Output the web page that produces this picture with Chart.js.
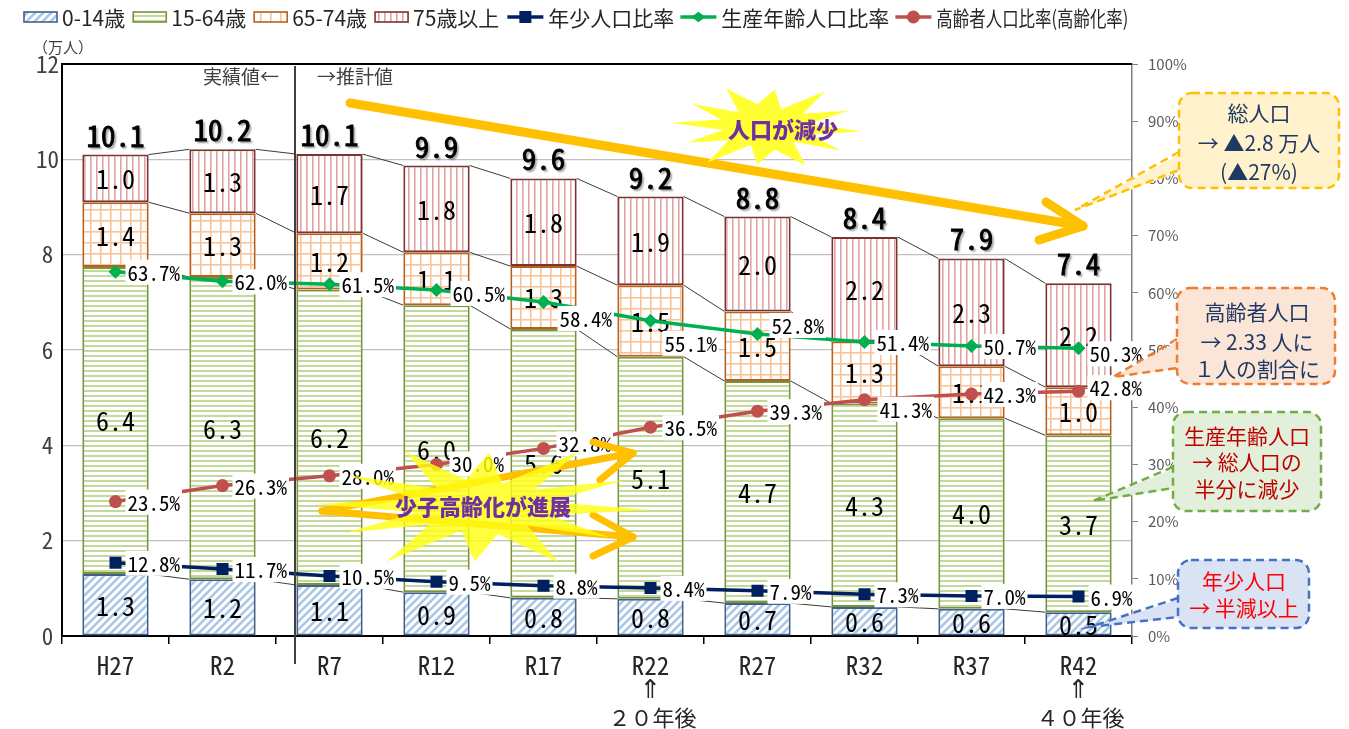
<!DOCTYPE html>
<html><head><meta charset="utf-8">
<script src="https://cdn.jsdelivr.net/npm/chart.js@4.4.1/dist/chart.umd.min.js"></script>
<style>html,body{margin:0;padding:0;background:#fff}#wrap{width:1349px;height:729px;position:relative}</style>
</head><body><div id="wrap"><canvas id="c"></canvas></div>
<script>
// ---- data ----
const categories = ['H27','R2','R7','R12','R17','R22','R27','R32','R37','R42'];
const age0_14   = [1.30,1.19,1.07,0.92,0.80,0.78,0.69,0.61,0.57,0.50];
const age15_64  = [6.44,6.34,6.20,6.02,5.64,5.08,4.66,4.27,4.00,3.71];
const age65_74  = [1.36,1.34,1.18,1.11,1.32,1.50,1.46,1.30,1.09,1.01];
const age75plus = [1.00,1.34,1.66,1.82,1.84,1.86,1.99,2.19,2.26,2.18];
const totals    = [10.1,10.2,10.1,9.9,9.6,9.2,8.8,8.4,7.9,7.4];
const youthRatio   = [12.8,11.7,10.5,9.5,8.8,8.4,7.9,7.3,7.0,6.9];
const workingRatio = [63.7,62.0,61.5,60.5,58.4,55.1,52.8,51.4,50.7,50.3];
const elderlyRatio = [23.5,26.3,28.0,30.0,32.8,36.5,39.3,41.3,42.3,42.8];
const seriesNames = ['0-14歳','15-64歳','65-74歳','75歳以上','年少人口比率','生産年齢人口比率','高齢者人口比率(高齢化率)'];

const MONO = "'Noto Sans Mono CJK JP','Liberation Mono',monospace";
const JP = "'Noto Sans CJK JP','Noto Sans',sans-serif";

// ---- patterns ----
function makePattern(w,h,draw){
  const c=document.createElement('canvas');c.width=w;c.height=h;
  const g=c.getContext('2d');g.fillStyle='#fff';g.fillRect(0,0,w,h);draw(g);
  return g.createPattern(c,'repeat');
}
const pDiag = makePattern(8,8,g=>{g.strokeStyle='#A9C6E6';g.lineWidth=2.6;g.beginPath();
  g.moveTo(-2,10);g.lineTo(10,-2);g.moveTo(-2,2);g.lineTo(2,-2);g.moveTo(6,10);g.lineTo(10,6);g.stroke();});
const pHor = makePattern(4,5,g=>{g.fillStyle='#C4D89E';g.fillRect(0,0,4,2);});
const pGrid = makePattern(10,11,g=>{g.fillStyle='#F9C598';g.fillRect(0,0,1.6,11);g.fillRect(0,0,10,1.6);});
const pVert = makePattern(6,4,g=>{g.fillStyle='#E2A4A3';g.fillRect(0,0,1.6,4);});

const barStyles = [
  {fill:pDiag, border:'#41608A'},
  {fill:pHor,  border:'#77933C'},
  {fill:pGrid, border:'#B8601E'},
  {fill:pVert, border:'#7A3333'}
];
const lineStyles = [
  {color:'#002060', style:'rect', r:8.5},
  {color:'#00B050', style:'rectRot', r:7},
  {color:'#C0504D', style:'circle', r:6.5}
];
// label offsets (dx,dy) for ratio labels
const labelShift = {
  1:{3:[16,3],4:[16,16],5:[14,22],6:[14,-9],9:[11,5]},
  2:{3:[15,-1],4:[15,-5],5:[14,0],7:[15,9],9:[11,-4]}
};

function barDS(i,data){
  return {type:'bar',label:seriesNames[i],data:data,yAxisID:'y',backgroundColor:barStyles[i].fill,
    borderColor:barStyles[i].border,borderWidth:2,borderSkipped:false,order:1,
    barPercentage:0.62,categoryPercentage:1};
}
function lineDS(i,data){
  const s=lineStyles[i];
  return {type:'line',label:seriesNames[4+i],data:data,yAxisID:'y1',borderColor:s.color,backgroundColor:s.color,
    borderWidth:3.5,pointStyle:s.style,pointRadius:s.r,pointHoverRadius:s.r,pointBorderWidth:0,tension:0,order:0};
}

function drawPointStyle(ctx,style,x,y,r,color){
  ctx.save();ctx.fillStyle=color;ctx.beginPath();
  if(style==='rect'){const s=Math.SQRT1_2*r;ctx.rect(x-s,y-s,2*s,2*s);}
  else if(style==='rectRot'){ctx.moveTo(x-r,y);ctx.lineTo(x,y-r*0.75);ctx.lineTo(x+r,y);ctx.lineTo(x,y+r*0.75);ctx.closePath();}
  else {ctx.arc(x,y,r,0,Math.PI*2);}
  ctx.fill();ctx.restore();
}

let barCount=0;
const labelPlugin = {
  id:'labels',
  beforeDatasetsDraw(){barCount=0;},
  afterDatasetDraw(chart,args){
    if(args.meta.type!=='bar')return;
    barCount++;
    if(barCount<4)return;
    const ctx=chart.ctx;
    const metas=[0,1,2,3].map(i=>chart.getDatasetMeta(i));
    // series lines
    ctx.save();ctx.strokeStyle='#3a3a3a';ctx.lineWidth=1;
    for(let k=0;k<4;k++){
      const els=metas[k].data;
      for(let i=0;i<els.length-1;i++){
        const a=els[i],b=els[i+1];
        ctx.beginPath();ctx.moveTo(a.x+a.width/2,a.y);ctx.lineTo(b.x-b.width/2,b.y);ctx.stroke();
      }
    }
    ctx.restore();
    // segment labels
    ctx.save();ctx.fillStyle='#000';ctx.font='26px '+MONO;ctx.textAlign='center';ctx.textBaseline='middle';
    const sets=[age0_14,age15_64,age65_74,age75plus];
    for(let k=0;k<4;k++){
      metas[k].data.forEach((el,i)=>{
        ctx.fillText(sets[k][i].toFixed(1),el.x,(el.y+el.base)/2+1);
      });
    }
    // totals
    ctx.font='29px '+MONO;ctx.textBaseline='alphabetic';
    ctx.strokeStyle='#000';ctx.lineWidth=0.9;
    ctx.shadowColor='rgba(0,0,0,0.4)';ctx.shadowOffsetX=2;ctx.shadowOffsetY=2;ctx.shadowBlur=2;
    metas[3].data.forEach((el,i)=>{const t=totals[i].toFixed(1);ctx.fillText(t,el.x,el.y-8);});
    ctx.shadowColor='rgba(0,0,0,0)';
    metas[3].data.forEach((el,i)=>{const t=totals[i].toFixed(1);ctx.strokeText(t,el.x,el.y-8);});
    ctx.restore();
  },
  afterDatasetsDraw(chart){
    const ctx=chart.ctx;
    const lines=[youthRatio,workingRatio,elderlyRatio];
    ctx.save();ctx.font='21px '+MONO;ctx.textBaseline='middle';ctx.textAlign='left';
    for(let j=0;j<3;j++){
      const meta=chart.getDatasetMeta(4+j);
      meta.data.forEach((pt,i)=>{
        const sh=(labelShift[j]&&labelShift[j][i])||[12,0];
        const t=lines[j][i].toFixed(1)+'%';
        const w=ctx.measureText(t).width;
        const x=pt.x+sh[0],yy=pt.y+sh[1];
        ctx.fillStyle='#fff';ctx.fillRect(x-2,yy-12,w+4,25);
        ctx.fillStyle='#000';ctx.fillText(t,x,yy+1);
      });
    }
    ctx.restore();
  }
};

function starShape(ctx,cx,cy,rx,ry,radii,rot){
  ctx.beginPath();const n=radii.length;
  for(let i=0;i<n;i++){const a=rot+i*2*Math.PI/n;ctx.lineTo(cx+Math.cos(a)*rx*radii[i],cy+Math.sin(a)*ry*radii[i]);}
  ctx.closePath();
}
function arrow(ctx,x1,y1,x2,y2,a1,a2,w){
  ctx.save();ctx.strokeStyle='#FFC000';ctx.lineWidth=w;ctx.lineCap='round';ctx.lineJoin='round';
  ctx.beginPath();ctx.moveTo(x1,y1);ctx.lineTo(x2,y2);ctx.stroke();
  ctx.beginPath();ctx.moveTo(a1[0],a1[1]);ctx.lineTo(x2,y2);ctx.lineTo(a2[0],a2[1]);ctx.stroke();
  ctx.restore();
}
function roundRect(ctx,x,y,w,h,r){ctx.beginPath();ctx.moveTo(x+r,y);ctx.arcTo(x+w,y,x+w,y+h,r);ctx.arcTo(x+w,y+h,x,y+h,r);ctx.arcTo(x,y+h,x,y,r);ctx.arcTo(x,y,x+w,y,r);ctx.closePath();}
function callout(ctx,o){
  ctx.save();ctx.lineWidth=2.5;ctx.setLineDash([8,5]);ctx.strokeStyle=o.stroke;ctx.fillStyle=o.fill;
  ctx.beginPath();ctx.moveTo(o.x+6,o.b1);ctx.lineTo(o.tip[0],o.tip[1]);ctx.lineTo(o.x+6,o.b2);ctx.closePath();ctx.fill();
  ctx.beginPath();ctx.moveTo(o.x,o.b1);ctx.lineTo(o.tip[0],o.tip[1]);ctx.lineTo(o.x,o.b2);ctx.stroke();
  roundRect(ctx,o.x,o.y,o.w,o.h,13);ctx.fill();
  ctx.setLineDash([]);ctx.fillStyle=o.fill;ctx.fillRect(o.x-3,o.b1+2,8,o.b2-o.b1-4);
  ctx.setLineDash([8,5]);roundRect(ctx,o.x,o.y,o.w,o.h,13);ctx.stroke();
  ctx.setLineDash([]);
  ctx.fillStyle=o.color;ctx.font='21px '+JP;ctx.textAlign='center';ctx.textBaseline='middle';
  o.lines.forEach((t,i)=>ctx.fillText(t,o.cx,o.ly[i]));
  ctx.restore();
}

const decoPlugin = {
  id:'deco',
  afterDraw(chart){
    const ctx=chart.ctx;const xs=chart.scales.x;const ca=chart.chartArea;
    // divider
    const r7=chart.getDatasetMeta(0).data[2];
    const dx=Math.round(r7.x-r7.width/2)-1;
    ctx.save();ctx.strokeStyle='#404040';ctx.lineWidth=2;ctx.beginPath();ctx.moveTo(dx,ca.top+2);ctx.lineTo(dx,664);ctx.stroke();
    ctx.fillStyle='#404040';ctx.font='19px '+JP;ctx.textBaseline='middle';
    ctx.textAlign='right';ctx.fillText('実績値←',dx-16,77);
    ctx.textAlign='left';ctx.fillText('→推計値',dx+22,77);
    // top border
    ctx.strokeStyle='#000';ctx.lineWidth=2;ctx.beginPath();ctx.moveTo(ca.left,ca.top);ctx.lineTo(ca.right,ca.top);ctx.stroke();
    // unit
    ctx.font='15px '+JP;ctx.textAlign='left';ctx.fillStyle='#404040';ctx.fillText('（万人）',33,47);
    // notes under axis
    ctx.fillStyle='#262626';ctx.textAlign='center';
    [[5,'２０年後'],[9,'４０年後']].forEach(([i,t])=>{
      const px=xs.getPixelForValue(i);
      ctx.font="26px 'DejaVu Sans','Noto Sans CJK JP'";ctx.fillText('⇑',px,691);
      ctx.font='22px '+JP;ctx.fillText(t,px+2,718);
    });
    ctx.restore();

    // legend
    ctx.save();ctx.font='21px '+JP;ctx.textBaseline='middle';ctx.fillStyle='#262626';
    let x=24;const ly=17;
    for(let i=0;i<4;i++){
      ctx.fillStyle=barStyles[i].fill;ctx.fillRect(x,12,33,10);
      ctx.strokeStyle=barStyles[i].border;ctx.lineWidth=1.6;ctx.strokeRect(x,12,33,10);
      x+=38;ctx.fillStyle='#262626';ctx.fillText(seriesNames[i],x,ly+1);x+=ctx.measureText(seriesNames[i]).width+8;
    }
    for(let j=0;j<3;j++){
      const s=lineStyles[j];
      ctx.strokeStyle=s.color;ctx.lineWidth=3.5;ctx.beginPath();ctx.moveTo(x,ly);ctx.lineTo(x+36,ly);ctx.stroke();
      drawPointStyle(ctx,s.style,x+18,ly,s.r,s.color);
      x+=41;ctx.fillStyle='#262626';
      const t=seriesNames[4+j];
      if(j===2){ctx.fillText(t,x,ly+1,192);}else{ctx.fillText(t,x,ly+1);x+=ctx.measureText(t).width+6;}
    }
    ctx.restore();

    // big decreasing arrow
    arrow(ctx,350,103,1083,226,[1046,202],[1039,240],9);
    // star 1: 人口が減少
    ctx.save();ctx.fillStyle='#FFFF33';
    starShape(ctx,766,127,96,42,[1.0,0.5,0.95,0.45,1.0,0.55,0.9,0.45,1.05,0.5,0.9,0.45,1.0,0.5,0.95,0.45,1.0,0.55,0.9,0.45,1.05,0.5,0.95,0.45],0.1);
    ctx.fill();
    ctx.fillStyle='#7030A0';ctx.font='900 22px '+JP;ctx.textAlign='center';ctx.textBaseline='middle';
    ctx.fillText('人口が減少',783,130);
    ctx.restore();
    // small arrows + star 2
    arrow(ctx,322,511,633,453,[593,442],[600,480],7);
    arrow(ctx,322,511,633,537,[593,515],[593,556],7);
    ctx.save();ctx.fillStyle='rgba(255,255,20,0.82)';
    starShape(ctx,482,507,168,62,[1.0,0.42,0.9,0.4,1.0,0.45,0.88,0.4,1.05,0.42,0.92,0.4,1.0,0.42,0.95,0.4,1.0,0.45,0.88,0.4,1.05,0.42,0.95,0.4],0.05);
    ctx.fill();
    ctx.fillStyle='#7030A0';ctx.font='900 22px '+JP;ctx.textAlign='center';ctx.textBaseline='middle';
    ctx.fillText('少子高齢化が進展',483,507);
    ctx.restore();

    // callouts
    callout(ctx,{x:1179,y:93,w:160,h:95,b1:152,b2:170,tip:[1075,210],fill:'#FFF2CC',stroke:'#FFC000',color:'#1F3864',
      cx:1259,ly:[113,143,172],lines:['総人口','→ ▲2.8 万人','(▲27%)']});
    callout(ctx,{x:1177,y:288,w:158,h:96,b1:339,b2:368,tip:[1113,377],fill:'#FBE5D6',stroke:'#ED7D31',color:'#1F3864',
      cx:1257,ly:[312,342,369],lines:['高齢者人口','→ 2.33 人に','１人の割合に']});
    callout(ctx,{x:1173,y:412,w:148,h:99,b1:467,b2:488,tip:[1093,501],fill:'#E2EFDA',stroke:'#70AD47',color:'#C00000',
      cx:1247,ly:[436,462,489],lines:['生産年齢人口','→ 総人口の','半分に減少']});
    callout(ctx,{x:1178,y:560,w:131,h:68,b1:598,b2:617,tip:[1090,627],fill:'#DAE3F3',stroke:'#4472C4',color:'#FF0000',
      cx:1244,ly:[581,608],lines:['年少人口','→ 半減以上']});
  }
};

const chart = new Chart(document.getElementById('c'),{
  data:{labels:categories,datasets:[
    barDS(0,age0_14),barDS(1,age15_64),barDS(2,age65_74),barDS(3,age75plus),
    lineDS(0,youthRatio),lineDS(1,workingRatio),lineDS(2,elderlyRatio)
  ]},
  options:{
    responsive:true,maintainAspectRatio:false,animation:false,
    layout:{padding:{left:12,top:64,right:0,bottom:0},autoPadding:false},
    plugins:{legend:{display:false},tooltip:{enabled:false}},
    scales:{
      x:{stacked:true,offset:true,
        grid:{offset:true,drawOnChartArea:false,drawTicks:true,tickLength:8,color:'#000',lineWidth:1.5},
        border:{color:'#000',width:2},
        ticks:{font:{family:MONO,size:25},color:'#262626',padding:6},
        afterFit(s){s.height=93;}},
      y:{stacked:true,position:'left',min:0,max:12,
        ticks:{stepSize:2,font:{family:MONO,size:23},color:'#404040',crossAlign:'center'},
        grid:{drawTicks:false,color:c=>c.tick.value===0?'rgba(0,0,0,0)':(c.tick.value===12?'#000':'#C0C0C0'),lineWidth:1.2},
        border:{color:'#000',width:2},
        afterFit(s){s.width=50;}},
      y1:{position:'right',min:0,max:100,
        ticks:{stepSize:10,callback:v=>v+'%',font:{family:JP,size:15},color:'#595959',padding:10},
        grid:{drawOnChartArea:false,tickLength:6,color:'#808080'},
        border:{color:'#808080',width:1.5},
        afterFit(s){s.width=217;}}
    }
  },
  plugins:[labelPlugin,decoPlugin]
});
</script></body></html>
